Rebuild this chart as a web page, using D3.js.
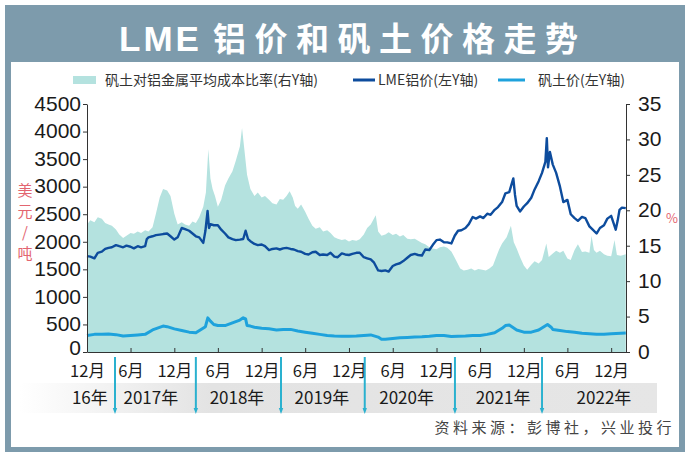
<!DOCTYPE html>
<html><head><meta charset="utf-8">
<script src="https://cdn.jsdelivr.net/npm/d3@7"></script>
<style>body{margin:0;background:#fff;}svg{display:block;}</style>
</head><body>
<svg id="chart" width="690" height="458"></svg>
<script>
// ---------- DATA ----------
const lmePrice = [
["2016-12-01",1740],["2016-12-15",1730],["2017-01-01",1700],["2017-01-15",1800],["2017-02-01",1820],["2017-02-15",1870],
["2017-03-01",1890],["2017-03-15",1900],["2017-04-01",1940],["2017-04-15",1920],["2017-05-01",1900],["2017-05-15",1930],
["2017-06-01",1910],["2017-06-15",1880],["2017-07-01",1920],["2017-07-15",1900],["2017-08-01",1920],["2017-08-08",2050],
["2017-08-15",2080],["2017-09-01",2100],["2017-09-15",2120],["2017-10-01",2130],["2017-10-15",2140],["2017-11-01",2150],
["2017-11-15",2100],["2017-12-01",2040],["2017-12-15",2080],["2018-01-01",2250],["2018-01-15",2230],["2018-02-01",2200],
["2018-02-15",2150],["2018-03-01",2100],["2018-03-15",2080],["2018-04-01",1980],["2018-04-10",2200],["2018-04-19",2560],
["2018-04-25",2250],["2018-05-01",2320],["2018-05-15",2300],["2018-06-01",2300],["2018-06-15",2220],["2018-07-01",2150],
["2018-07-15",2080],["2018-08-01",2050],["2018-08-15",2030],["2018-09-01",2040],["2018-09-15",2050],["2018-09-25",2200],
["2018-10-05",2050],["2018-10-15",2010],["2018-11-01",1960],["2018-11-15",1940],["2018-12-01",1950],["2018-12-15",1920],
["2019-01-01",1850],["2019-01-15",1870],["2019-02-01",1880],["2019-02-15",1860],["2019-03-01",1880],["2019-03-15",1890],
["2019-04-01",1870],["2019-04-15",1860],["2019-05-01",1830],["2019-05-15",1820],["2019-06-01",1780],["2019-06-15",1770],
["2019-07-01",1810],["2019-07-15",1820],["2019-08-01",1760],["2019-08-15",1770],["2019-09-01",1760],["2019-09-15",1800],
["2019-10-01",1730],["2019-10-15",1720],["2019-11-01",1790],["2019-11-15",1770],["2019-12-01",1760],["2019-12-15",1780],
["2020-01-01",1800],["2020-01-15",1800],["2020-02-01",1720],["2020-02-15",1700],["2020-03-01",1680],["2020-03-15",1620],
["2020-04-01",1480],["2020-04-15",1470],["2020-05-01",1480],["2020-05-15",1460],["2020-06-01",1560],["2020-06-15",1590],
["2020-07-01",1610],["2020-07-15",1650],["2020-08-01",1710],["2020-08-15",1760],["2020-09-01",1780],["2020-09-15",1760],
["2020-10-01",1750],["2020-10-15",1860],["2020-11-01",1850],["2020-11-15",1940],["2020-12-01",2030],["2020-12-15",2040],
["2021-01-01",1990],["2021-01-15",1990],["2021-02-01",1970],["2021-02-15",2110],["2021-03-01",2200],["2021-03-15",2210],
["2021-04-01",2250],["2021-04-15",2320],["2021-05-01",2450],["2021-05-15",2420],["2021-06-01",2460],["2021-06-15",2430],
["2021-07-01",2510],["2021-07-15",2490],["2021-08-01",2580],["2021-08-15",2630],["2021-09-01",2720],["2021-09-15",2880],
["2021-10-01",2900],["2021-10-18",3150],["2021-10-25",2850],["2021-11-01",2650],["2021-11-15",2550],["2021-12-01",2640],
["2021-12-15",2700],["2022-01-01",2800],["2022-01-15",2950],["2022-02-01",3100],["2022-02-15",3250],["2022-03-01",3450],
["2022-03-07",3880],["2022-03-12",3350],["2022-03-20",3630],["2022-04-01",3400],["2022-04-15",3250],["2022-05-01",3000],
["2022-05-15",2720],["2022-06-01",2760],["2022-06-15",2500],["2022-07-01",2430],["2022-07-15",2380],["2022-08-01",2450],
["2022-08-15",2430],["2022-09-01",2280],["2022-09-15",2220],["2022-10-01",2150],["2022-10-15",2250],["2022-11-01",2300],
["2022-11-15",2420],["2022-12-01",2470],["2022-12-10",2350],["2022-12-20",2220],["2022-12-28",2380],["2023-01-05",2580],
["2023-01-15",2620],["2023-01-31",2610]
];
const bauxitePrice = [
["2016-12-01",300],["2017-01-01",320],["2017-02-01",320],["2017-03-01",325],["2017-04-01",315],["2017-05-01",290],
["2017-06-01",300],["2017-07-01",310],["2017-08-01",320],["2017-09-01",400],["2017-10-15",470],["2017-11-01",460],
["2017-12-01",420],["2018-01-01",390],["2018-02-01",360],["2018-03-01",350],["2018-04-10",460],["2018-04-20",620],
["2018-05-01",560],["2018-05-15",500],["2018-06-01",480],["2018-07-01",480],["2018-08-01",530],["2018-09-01",580],
["2018-09-15",620],["2018-09-25",600],["2018-10-01",480],["2018-10-15",470],["2018-11-01",450],["2018-12-01",430],
["2019-01-01",420],["2019-02-01",400],["2019-03-01",410],["2019-04-01",410],["2019-05-01",380],["2019-06-01",360],
["2019-07-01",340],["2019-08-01",320],["2019-09-01",300],["2019-10-01",290],["2019-11-01",285],["2019-12-01",285],
["2020-01-01",290],["2020-02-01",300],["2020-03-01",310],["2020-04-01",270],["2020-04-15",230],["2020-05-01",230],
["2020-06-01",245],["2020-07-01",260],["2020-08-01",265],["2020-09-01",270],["2020-10-01",275],["2020-11-01",285],
["2020-12-01",300],["2021-01-01",300],["2021-02-01",280],["2021-03-01",285],["2021-04-01",290],["2021-05-01",300],
["2021-06-01",300],["2021-07-01",320],["2021-08-01",350],["2021-09-01",430],["2021-09-15",480],["2021-10-01",490],
["2021-10-15",450],["2021-11-01",400],["2021-12-01",360],["2022-01-01",360],["2022-02-01",400],["2022-03-10",500],
["2022-03-25",450],["2022-04-01",410],["2022-05-01",390],["2022-06-01",370],["2022-07-01",360],["2022-08-01",340],
["2022-09-01",330],["2022-10-01",320],["2022-11-01",320],["2022-12-01",330],["2023-01-31",345]
];
const costRatio = [
["2016-12-01",18.0],["2016-12-15",18.6],["2017-01-01",18.3],["2017-01-15",19.0],["2017-02-01",18.8],["2017-02-15",18.2],
["2017-03-01",18.0],["2017-03-15",17.8],["2017-04-01",17.3],["2017-04-15",16.6],["2017-05-01",16.1],["2017-05-15",16.4],
["2017-06-01",16.8],["2017-06-15",16.7],["2017-07-01",17.0],["2017-07-15",16.8],["2017-08-01",17.2],["2017-08-15",17.0],
["2017-09-01",17.6],["2017-09-15",19.5],["2017-10-01",21.8],["2017-10-15",23.0],["2017-11-01",22.8],["2017-11-15",22.0],
["2017-12-01",19.5],["2017-12-15",18.0],["2018-01-01",18.3],["2018-01-15",18.0],["2018-02-01",17.8],["2018-02-15",18.4],
["2018-03-01",18.2],["2018-03-15",19.0],["2018-04-01",20.5],["2018-04-12",22.5],["2018-04-22",28.6],["2018-05-01",24.5],
["2018-05-10",23.0],["2018-05-20",22.0],["2018-06-01",20.5],["2018-06-15",21.5],["2018-07-01",23.5],["2018-07-15",24.5],
["2018-08-01",25.5],["2018-08-15",27.0],["2018-09-01",29.0],["2018-09-10",31.6],["2018-09-20",28.5],["2018-10-01",25.0],
["2018-10-15",23.0],["2018-11-01",22.0],["2018-11-15",22.5],["2018-12-01",21.8],["2018-12-15",22.0],["2019-01-01",21.5],
["2019-01-15",21.0],["2019-02-01",20.8],["2019-02-15",21.6],["2019-03-01",21.5],["2019-03-15",22.0],["2019-03-28",22.7],
["2019-04-10",21.8],["2019-04-20",20.6],["2019-05-01",20.2],["2019-05-15",20.8],["2019-06-01",19.8],["2019-06-15",18.8],
["2019-07-01",17.8],["2019-07-15",17.4],["2019-08-01",17.6],["2019-08-15",17.0],["2019-09-01",17.2],["2019-09-15",16.8],
["2019-10-01",16.2],["2019-10-15",16.0],["2019-11-01",15.8],["2019-11-15",15.9],["2019-12-01",15.6],["2019-12-15",15.8],
["2020-01-01",15.7],["2020-01-15",15.9],["2020-02-01",16.6],["2020-02-15",17.5],["2020-03-01",18.0],["2020-03-22",19.3],
["2020-04-01",17.0],["2020-04-15",16.4],["2020-05-01",16.6],["2020-05-15",16.9],["2020-06-01",16.5],["2020-06-15",16.7],
["2020-07-01",16.3],["2020-07-15",16.5],["2020-08-01",16.0],["2020-08-15",15.9],["2020-09-01",16.0],["2020-09-15",15.7],
["2020-10-01",15.4],["2020-10-15",15.2],["2020-11-01",14.8],["2020-11-15",14.6],["2020-12-01",14.5],["2020-12-15",14.8],
["2021-01-01",14.9],["2021-01-15",14.7],["2021-02-01",14.2],["2021-02-20",13.0],["2021-03-10",11.8],["2021-03-25",11.5],
["2021-04-10",11.6],["2021-04-25",11.8],["2021-05-10",11.5],["2021-05-25",11.7],["2021-06-10",11.6],["2021-06-25",11.5],
["2021-07-10",11.8],["2021-07-25",12.2],["2021-08-05",13.2],["2021-08-20",14.5],["2021-09-01",15.3],["2021-09-20",16.2],
["2021-10-08",17.8],["2021-10-20",15.5],["2021-11-01",14.6],["2021-11-15",13.4],["2021-12-01",12.2],["2021-12-15",11.6],
["2022-01-01",12.3],["2022-01-15",12.8],["2022-02-01",12.5],["2022-02-15",13.0],["2022-03-05",15.3],["2022-03-15",13.4],
["2022-04-01",13.9],["2022-04-15",14.3],["2022-05-01",14.0],["2022-05-15",14.3],["2022-06-01",13.2],["2022-06-15",13.0],
["2022-07-01",14.4],["2022-07-15",15.2],["2022-08-01",14.1],["2022-08-15",14.2],["2022-09-01",14.0],["2022-09-10",16.4],
["2022-09-20",14.4],["2022-10-01",14.0],["2022-10-15",14.3],["2022-11-01",13.8],["2022-11-15",13.6],["2022-12-01",13.5],
["2022-12-15",15.8],["2022-12-25",13.7],["2023-01-10",13.6],["2023-01-31",13.8]
];
const leftTicks = [0,500,1000,1500,2000,2500,3000,3500,4000,4500];
const rightTicks = [0,5,10,15,20,25,30,35];
const monthTickDates = ["2016-12-01","2017-06-01","2017-12-01","2018-06-01","2018-12-01","2019-06-01","2019-12-01",
  "2020-06-01","2020-12-01","2021-06-01","2021-12-01","2022-06-01","2022-12-01"];
const monthTickLabels = ["12月","6月","12月","6月","12月","6月","12月","6月","12月","6月","12月","6月","12月"];
const yearLabels = ["16年","2017年","2018年","2019年","2020年","2021年","2022年"];
const yearLabelDates = ["2016-12-13","2017-08-25","2018-08-20","2019-08-10","2020-07-29","2021-09-05","2022-11-01"];
const yearSeparatorDates = ["2017-03-28","2018-03-01","2019-02-20","2020-02-05","2021-02-16","2022-02-15"];
const titleLatin = "LME";
const titleCJK = "铝价和矾土价格走势";
const legendItems = ["矾土对铝金属平均成本比率(右Y轴)","LME铝价(左Y轴)","矾土价(左Y轴)"];
const sourceText = "资料来源：彭博社，兴业投行";

// ---------- DRAW ----------
const parse = d3.utcParse("%Y-%m-%d");
const svg = d3.select("#chart");
const CJK = "'Noto Sans CJK SC','Noto Sans',sans-serif";
const NUM = "'Liberation Sans',Arial,sans-serif";

const x = d3.scaleUtc().domain([parse("2016-12-01"), parse("2023-02-01")]).range([87, 626]);
const yL = d3.scaleLinear().domain([0, 4500]).range([352, 104]);
const yR = d3.scaleLinear().domain([0, 35]).range([352, 104]);

// frame
svg.append("rect").attr("x",5).attr("y",5).attr("width",680).attr("height",447).attr("fill","#7d9bac");
svg.append("rect").attr("x",11).attr("y",62).attr("width",668).attr("height",385).attr("fill","#fff");
const title = svg.append("text").attr("y",51)
  .attr("font-family",CJK).attr("font-weight",700).attr("font-size",33).attr("fill","#fff");
title.append("tspan").attr("x",119).attr("letter-spacing",3).attr("font-family","'Liberation Sans',Arial,sans-serif")
  .attr("font-size",35).text(titleLatin);
title.append("tspan").attr("x",213).attr("letter-spacing",8.5).text(titleCJK);

// legend
const lg = svg.append("g").attr("font-family",CJK).attr("font-size",14).attr("fill","#333");
lg.append("rect").attr("x",73).attr("y",76).attr("width",23).attr("height",8).attr("fill","#b4e2df");
lg.append("text").attr("x",105).attr("y",85).text(legendItems[0]);
lg.append("line").attr("x1",353).attr("x2",375).attr("y1",80).attr("y2",80).attr("stroke","#0d4c9d").attr("stroke-width",3);
lg.append("text").attr("x",378).attr("y",85).text(legendItems[1]);
lg.append("line").attr("x1",498).attr("x2",525).attr("y1",80).attr("y2",80).attr("stroke","#1ea2dc").attr("stroke-width",3);
lg.append("text").attr("x",538).attr("y",85).text(legendItems[2]);

// year band
const defs = svg.append("defs");
const grad = defs.append("linearGradient").attr("id","band").attr("x1","0").attr("x2","1").attr("y1","0").attr("y2","0");
grad.append("stop").attr("offset","0").attr("stop-color","#e3e3e3").attr("stop-opacity",0);
grad.append("stop").attr("offset","0.3").attr("stop-color","#e3e3e3").attr("stop-opacity",1);
grad.append("stop").attr("offset","1").attr("stop-color","#e6e6e6").attr("stop-opacity",1);
svg.append("rect").attr("x",20).attr("y",383).attr("width",637).attr("height",30).attr("fill","url(#band)");

// series
const ratioData = costRatio.map(d => ({date: parse(d[0]), v: d[1]}));
const lmeData = lmePrice.map(d => ({date: parse(d[0]), v: d[1]}));
const bxData = bauxitePrice.map(d => ({date: parse(d[0]), v: d[1]}));

svg.append("path").datum(ratioData).attr("fill","#b4e2df")
  .attr("d", d3.area().x(d => x(d.date)).y0(yR(0)).y1(d => yR(d.v)));
svg.append("path").datum(bxData).attr("fill","none").attr("stroke","#1ea2dc").attr("stroke-width",3)
  .attr("stroke-linejoin","round").attr("d", d3.line().x(d => x(d.date)).y(d => yL(d.v)));
svg.append("path").datum(lmeData).attr("fill","none").attr("stroke","#0d4c9d").attr("stroke-width",2.4)
  .attr("stroke-linejoin","round").attr("d", d3.line().x(d => x(d.date)).y(d => yL(d.v)));

// axes
function styleAxis(g, fs, fam){
  g.selectAll("path,line").attr("stroke","#333").attr("stroke-width",1);
  g.selectAll("text").attr("font-family",fam).attr("font-size",fs).attr("fill","#1a1a1a");
}
svg.append("g").attr("transform","translate(87,0)")
  .call(d3.axisLeft(yL).tickValues(leftTicks).tickSize(4).tickSizeOuter(0).tickPadding(2).tickFormat(d3.format("d")))
  .call(g => styleAxis(g, 21, NUM))
  .call(g => g.selectAll("text").attr("dy", d => d === 0 ? "0.12em" : "0.3em"));
svg.append("g").attr("transform","translate(626,0)")
  .call(d3.axisRight(yR).tickValues(rightTicks).tickSize(4).tickSizeOuter(0).tickPadding(8).tickFormat(d3.format("d")))
  .call(g => styleAxis(g, 21, NUM))
  .call(g => g.selectAll("text").attr("dy","0.3em"));
const mDates = monthTickDates.map(parse);
svg.append("g").attr("transform","translate(0,352)")
  .call(d3.axisBottom(x).tickValues(mDates).tickSize(-4).tickSizeOuter(0).tickPadding(13)
     .tickFormat((d,i) => monthTickLabels[i]))
  .call(g => styleAxis(g, 16.5, CJK));

// year labels
svg.append("g").selectAll("text").data(yearLabels).join("text")
  .attr("x",(d,i) => x(parse(yearLabelDates[i]))).attr("y",404).attr("text-anchor","middle")
  .attr("font-family",CJK).attr("font-size",17).attr("fill","#1a1a1a").text(d => d);

// separators
const sep = svg.append("g").attr("fill","#2ab1cf").attr("stroke","#2ab1cf");
yearSeparatorDates.forEach(s => {
  const sx = x(parse(s));
  sep.append("line").attr("x1",sx).attr("x2",sx).attr("y1",357).attr("y2",410).attr("stroke-width",2);
  sep.append("path").attr("stroke","none").attr("d",`M${sx-2.2},408 L${sx+2.2},408 L${sx},414 Z`);
});

// axis unit labels
const unit = ["美","元","/","吨"];
svg.append("g").selectAll("text").data(unit).join("text")
  .attr("x",25).attr("y",(d,i) => 196 + i*21).attr("text-anchor","middle")
  .attr("font-family",CJK).attr("font-size",15).attr("fill","#e36570").text(d => d);
svg.append("text").attr("x",672).attr("y",223).attr("text-anchor","middle")
  .attr("font-family",CJK).attr("font-size",13).attr("fill","#e36570").text("%");

// source
svg.append("text").attr("x",675).attr("y",433).attr("text-anchor","end")
  .attr("font-family",CJK).attr("font-size",15).attr("letter-spacing",3.5).attr("fill","#444").text(sourceText);
</script>
</body></html>
